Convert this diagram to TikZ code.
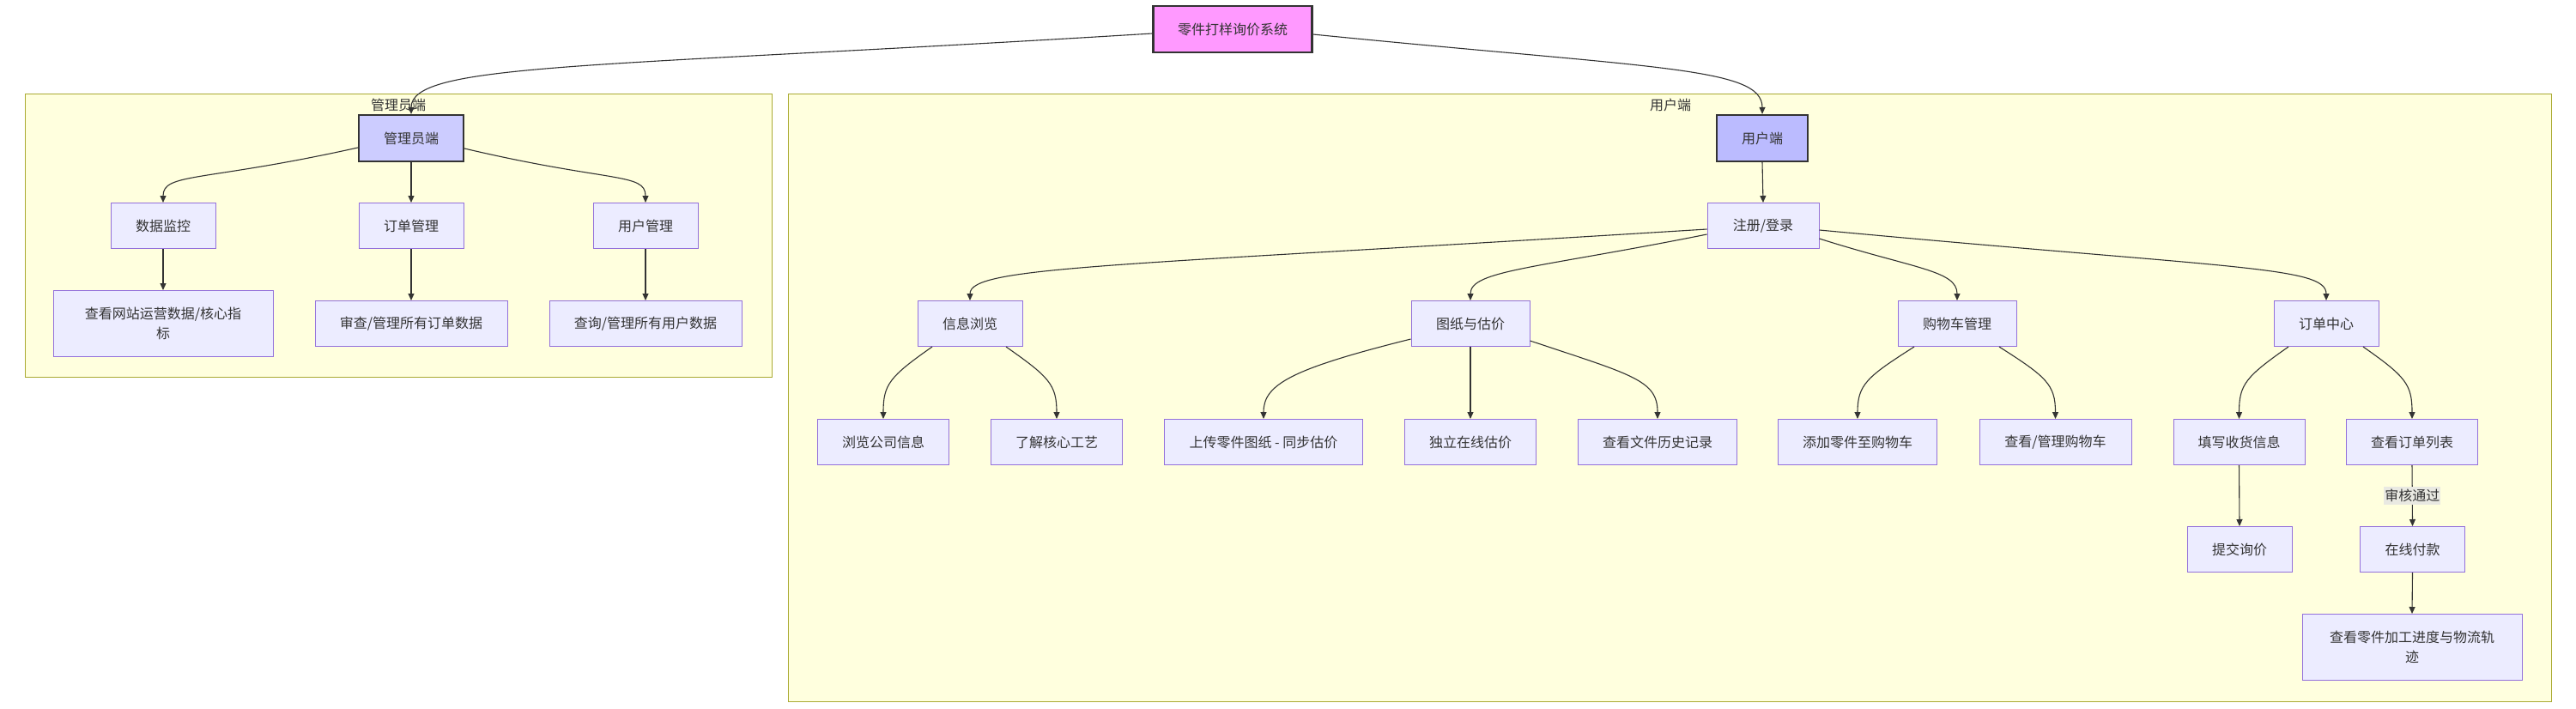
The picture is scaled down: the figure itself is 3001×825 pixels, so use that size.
\documentclass[tikz,border=0pt]{standalone}
\usepackage{fontspec}
\setmainfont{Noto Sans CJK SC}
\usetikzlibrary{arrows.meta}
\definecolor{txt}{HTML}{333333}
\definecolor{nodefill}{HTML}{ECECFF}
\definecolor{nodeline}{HTML}{9370DB}
\definecolor{clfill}{HTML}{FFFFDE}
\definecolor{clline}{HTML}{AAAA33}
\definecolor{rootfill}{HTML}{FF99FF}
\definecolor{adminfill}{HTML}{CCCCFF}
\definecolor{userfill}{HTML}{BBBBFF}
\definecolor{lblfill}{HTML}{E9E9E2}
\tikzset{
  box/.style={draw=nodeline, fill=nodefill, line width=1pt, inner sep=0pt,
    text=txt, align=center, minimum height=53pt,
    font=\fontsize{16pt}{23pt}\selectfont},
  keybox/.style={box, draw=txt, line width=2.2pt, minimum height=54pt},
  cluster/.style={draw=clline, fill=clfill, line width=1pt},
  cltitle/.style={text=txt, inner sep=0pt, font=\fontsize{16pt}{20pt}\selectfont},
  edge/.style={draw=txt, line width=1.1pt, -{Triangle[width=7pt,length=8pt]}},
  elabel/.style={fill=lblfill, text=txt, inner xsep=1pt, inner ysep=3pt,
    font=\fontsize{16pt}{20pt}\selectfont}
}
\begin{document}
\begin{tikzpicture}[x=1pt,y=-1pt]
\useasboundingbox (0,0) rectangle (3001,825);
\fill[white] (0,0) rectangle (3001,825);
% clusters
\draw[cluster] (29,109) rectangle (899,439);
\draw[cluster] (918,109) rectangle (2972,817);
\node[cltitle] (tadmin) at (464,122) {管理员端};
\node[cltitle] (tuser) at (1946,122) {用户端};
% root
\node[keybox, fill=rootfill, minimum width=185pt] (root) at (1436,34) {零件打样询价系统};
% admin side
\node[keybox, fill=adminfill, minimum width=122pt] (admin) at (479,161) {管理员端};
\node[box, minimum width=122pt] (dm) at (190,263) {数据监控};
\node[box, minimum width=122pt] (om) at (479,263) {订单管理};
\node[box, minimum width=122pt] (um) at (752,263) {用户管理};
\node[box, minimum width=256pt, minimum height=77pt] (a1) at (190,377) {查看网站运营数据/核心指\\标};
\node[box, minimum width=224pt] (a2) at (479,377) {审查/管理所有订单数据};
\node[box, minimum width=224pt] (a3) at (752,377) {查询/管理所有用户数据};
% user side
\node[keybox, fill=userfill, minimum width=106pt] (user) at (2053,161) {用户端};
\node[box, minimum width=130pt] (reg) at (2054,263) {注册/登录};
\node[box, minimum width=122pt] (info) at (1130,377) {信息浏览};
\node[box, minimum width=138pt] (dw) at (1713,377) {图纸与估价};
\node[box, minimum width=138pt] (cart) at (2280,377) {购物车管理};
\node[box, minimum width=122pt] (oc) at (2710,377) {订单中心};
\node[box, minimum width=153pt] (bci) at (1029,515) {浏览公司信息};
\node[box, minimum width=153pt] (craft) at (1231,515) {了解核心工艺};
\node[box, minimum width=231pt] (upload) at (1472,515) {上传零件图纸 - 同步估价};
\node[box, minimum width=153pt] (online) at (1713,515) {独立在线估价};
\node[box, minimum width=185pt] (hist) at (1931,515) {查看文件历史记录};
\node[box, minimum width=185pt] (add) at (2164,515) {添加零件至购物车};
\node[box, minimum width=177pt] (vcart) at (2394.5,515) {查看/管理购物车};
\node[box, minimum width=153pt] (fill) at (2608.5,515) {填写收货信息};
\node[box, minimum width=153pt] (olist) at (2810,515) {查看订单列表};
\node[box, minimum width=122pt] (submit) at (2609,640) {提交询价};
\node[box, minimum width=122pt] (pay) at (2810.5,640) {在线付款};
\node[box, minimum width=256pt, minimum height=77pt] (track) at (2810,754) {查看零件加工进度与物流轨\\迹};
% edges from root
\draw[edge] ([yshift=-5pt]root.west) .. controls +(-650,40) and +(0,-60) .. (admin.north);
\draw[edge] ([yshift=-6pt]root.east) .. controls +(400,40) and +(0,-55) .. (user.north);
% admin edges
\draw[edge] ([yshift=-11pt]admin.west) .. controls +(-180,40) and +(0,-35) .. (dm.north);
\draw[edge] (admin.south) -- (om.north);
\draw[edge] ([yshift=-12pt]admin.east) .. controls +(170,40) and +(0,-35) .. (um.north);
\draw[edge] (dm.south) -- (a1.north);
\draw[edge] (om.south) -- (a2.north);
\draw[edge] (um.south) -- (a3.north);
% user edges
\draw[edge] (user.south) -- (reg.north);
\draw[edge] ([yshift=-4pt]reg.west) .. controls +(-689,43) and +(0,-40) .. (info.north);
\draw[edge] ([yshift=-10pt]reg.west) .. controls +(-200,40) and +(0,-35) .. (dw.north);
\draw[edge] ([yshift=-15pt]reg.east) .. controls +(110,35) and +(0,-35) .. (cart.north);
\draw[edge] ([yshift=-5pt]reg.east) .. controls +(480,45) and +(0,-40) .. (oc.north);
\draw[edge] ([xshift=-44pt]info.south) .. controls +(-50,35) and +(0,-40) .. (bci.north);
\draw[edge] ([xshift=42pt]info.south) .. controls +(50,35) and +(0,-40) .. (craft.north);
\draw[edge] ([yshift=-18pt]dw.west) .. controls +(-140,35) and +(0,-40) .. (upload.north);
\draw[edge] (dw.south) -- (online.north);
\draw[edge] ([yshift=-20pt]dw.east) .. controls +(120,40) and +(0,-45) .. (hist.north);
\draw[edge] ([xshift=-50pt]cart.south) .. controls +(-55,35) and +(0,-40) .. (add.north);
\draw[edge] ([xshift=49pt]cart.south) .. controls +(55,35) and +(0,-40) .. (vcart.north);
\draw[edge] ([xshift=-44pt]oc.south) .. controls +(-50,35) and +(0,-40) .. (fill.north);
\draw[edge] ([xshift=43pt]oc.south) .. controls +(50,35) and +(0,-40) .. (olist.north);
\draw[edge] (fill.south) -- (submit.north);
\draw[edge] (olist.south) -- node[elabel] (lpass) {审核通过} (pay.north);
\draw[edge] (pay.south) -- (track.north);
\end{tikzpicture}
\end{document}
